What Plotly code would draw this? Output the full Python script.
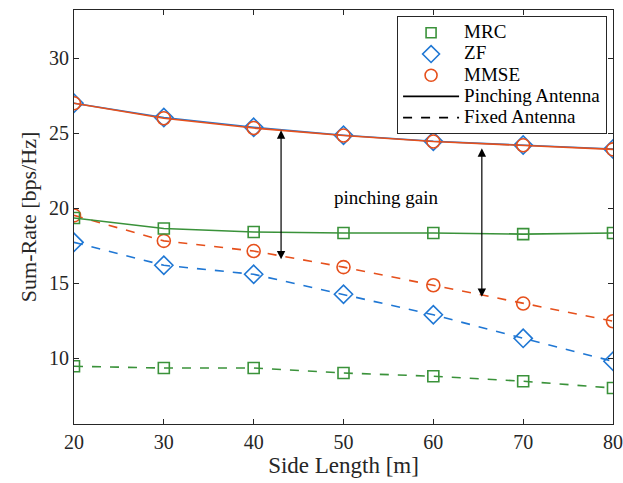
import plotly.graph_objects as go

side_length = [20, 30, 40, 50, 60, 70, 80]

mrc_pinching = [19.35, 18.65, 18.42, 18.35, 18.35, 18.28, 18.35]
zf_pinching = [27.0, 26.05, 25.4, 24.87, 24.47, 24.22, 23.95]
mmse_pinching = [27.0, 26.0, 25.35, 24.85, 24.45, 24.2, 23.93]

mrc_fixed = [9.47, 9.35, 9.35, 9.02, 8.8, 8.47, 8.02]
zf_fixed = [17.73, 16.2, 15.6, 14.27, 12.9, 11.33, 9.8]
mmse_fixed = [19.53, 17.83, 17.15, 16.08, 14.87, 13.65, 12.47]

x_ticks = [20, 30, 40, 50, 60, 70, 80]
y_ticks = [10, 15, 20, 25, 30]

legend_names = ["MRC", "ZF", "MMSE", "Pinching Antenna", "Fixed Antenna"]

# arrows: (x, y_top, y_bottom)
gain_arrows = [(43.05, 25.3, 16.6), (65.4, 24.1, 14.1)]
gain_label = ("pinching gain", 54.7, 20.75)

GREEN = "#3a923a"
BLUE = "#1f77d4"
RED = "#e6501c"
SERIF = "Liberation Serif"

fig = go.Figure()

def add_series(y, color, symbol, size, dash):
    fig.add_trace(go.Scatter(
        x=side_length, y=y, mode="lines+markers", showlegend=False,
        line=dict(color=color, width=1.6, dash=dash),
        marker=dict(symbol=symbol, size=size, color=color,
                    line=dict(color=color, width=1.6)),
    ))

add_series(mrc_fixed, GREEN, "square-open", 11, "dash")
add_series(zf_fixed, BLUE, "diamond-open", 14, "dash")
add_series(mmse_fixed, RED, "circle-open", 13, "dash")
add_series(mrc_pinching, GREEN, "square-open", 11, "solid")
add_series(zf_pinching, BLUE, "diamond-open", 14, "solid")
add_series(mmse_pinching, RED, "circle-open", 13, "solid")

def lg(name):
    return "<span style='font-size:19px'>%s</span>" % name

# legend entries
fig.add_trace(go.Scatter(x=[None], y=[None], mode="markers", name=lg(legend_names[0]),
                         marker=dict(symbol="square-open", size=10, color=GREEN, line=dict(width=1.6))))
fig.add_trace(go.Scatter(x=[None], y=[None], mode="markers", name=lg(legend_names[1]),
                         marker=dict(symbol="diamond-open", size=13, color=BLUE, line=dict(width=1.6))))
fig.add_trace(go.Scatter(x=[None], y=[None], mode="markers", name=lg(legend_names[2]),
                         marker=dict(symbol="circle-open", size=12, color=RED, line=dict(width=1.6))))
fig.add_trace(go.Scatter(x=[None], y=[None], mode="lines", name=lg(legend_names[3]),
                         line=dict(color="black", width=1.6)))
fig.add_trace(go.Scatter(x=[None], y=[None], mode="lines", name=lg(legend_names[4]),
                         line=dict(color="black", width=1.6, dash="dash")))

for (ax_x, y_top, y_bot) in gain_arrows:
    fig.add_annotation(x=ax_x, y=y_bot, ax=ax_x, ay=y_top, xref="x", yref="y",
                       axref="x", ayref="y", showarrow=True, arrowhead=2,
                       arrowside="end+start", arrowsize=1.4, arrowwidth=1.2,
                       arrowcolor="black", text="")

fig.add_annotation(x=gain_label[1], y=gain_label[2], xref="x", yref="y",
                   text=gain_label[0], showarrow=False,
                   font=dict(family=SERIF, size=19, color="black"))

axis_common = dict(showgrid=False, zeroline=False, showline=True, linecolor="#262626",
                   linewidth=1, mirror="ticks", ticks="inside", ticklen=5,
                   tickcolor="#262626", automargin=False,
                   tickfont=dict(family=SERIF, size=20, color="#262626"))

fig.update_xaxes(range=[20, 80], tickvals=x_ticks,
                 title=dict(text="Side Length [m]", standoff=2,
                            font=dict(family=SERIF, size=23, color="#262626")),
                 **axis_common)
fig.update_yaxes(range=[5.62, 33.22], tickvals=y_ticks,
                 title=dict(text="Sum-Rate [bps/Hz]", standoff=6,
                            font=dict(family=SERIF, size=22, color="#262626")),
                 **axis_common)

fig.update_layout(
    width=623, height=483,
    margin=dict(l=74, r=10, t=10, b=59),
    plot_bgcolor="white", paper_bgcolor="white",
    legend=dict(x=0.989, y=0.985, xanchor="right", yanchor="top",
                bgcolor="white", bordercolor="#262626", borderwidth=1,
                font=dict(family=SERIF, size=14, color="black"),
                tracegroupgap=0, itemwidth=56),
)

fig.write_html("out.html")
